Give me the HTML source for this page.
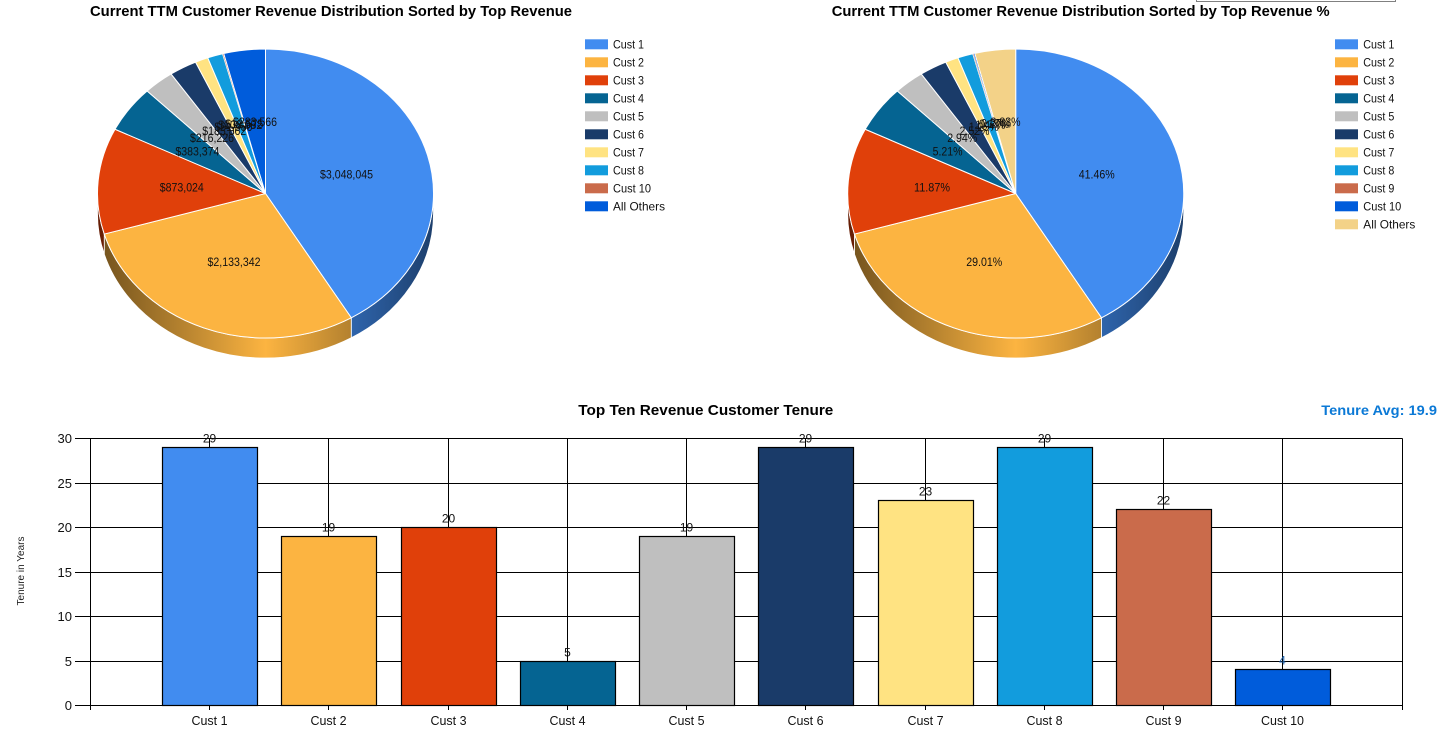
<!DOCTYPE html>
<html>
<head>
<meta charset="utf-8">
<style>
  html,body{margin:0;padding:0;background:#fff;}
  body{width:1444px;height:731px;overflow:hidden;}
  svg{display:block;font-family:"Liberation Sans",Arial,sans-serif;}
</style>
</head>
<body>
<svg width="1444" height="731" viewBox="0 0 1444 731" xmlns="http://www.w3.org/2000/svg">
  <defs>
    <linearGradient id="gB" gradientUnits="userSpaceOnUse" x1="97.5" y1="0" x2="433.5" y2="0">
      <stop offset="0" stop-color="#1d3f6c"/>
      <stop offset="0.25" stop-color="#2f65ad"/>
      <stop offset="0.5" stop-color="#418cf0"/>
      <stop offset="0.75" stop-color="#2f65ad"/>
      <stop offset="1" stop-color="#1d3f6c"/>
    </linearGradient>
    <linearGradient id="gO" gradientUnits="userSpaceOnUse" x1="97.5" y1="0" x2="433.5" y2="0">
      <stop offset="0" stop-color="#71511d"/>
      <stop offset="0.25" stop-color="#b5822f"/>
      <stop offset="0.5" stop-color="#fcb441"/>
      <stop offset="0.75" stop-color="#b5822f"/>
      <stop offset="1" stop-color="#71511d"/>
    </linearGradient>
    <linearGradient id="gR" gradientUnits="userSpaceOnUse" x1="97.5" y1="0" x2="433.5" y2="0">
      <stop offset="0" stop-color="#651d05"/>
      <stop offset="0.25" stop-color="#a12e07"/>
      <stop offset="0.5" stop-color="#e0400a"/>
      <stop offset="0.75" stop-color="#a12e07"/>
      <stop offset="1" stop-color="#651d05"/>
    </linearGradient>
  </defs>

  <!-- top-right box fragment -->
  <rect x="1196.5" y="-6" width="199" height="7.5" fill="#fff" stroke="#808080" stroke-width="1"/>

  <!-- ============ LEFT PIE ============ -->
  <text x="90" y="16" font-size="15" font-weight="bold" fill="#000" textLength="482" lengthAdjust="spacingAndGlyphs">Current TTM Customer Revenue Distribution Sorted by Top Revenue</text>

  <g stroke="#fff" stroke-width="0.8">
    <path d="M433.5,193.5 A168,144.5 0 0 1 351.27,317.76 L351.27,337.76 A168,144.5 0 0 0 433.5,213.5 Z" fill="url(#gB)"/>
    <path d="M351.27,317.76 A168,144.5 0 0 1 104.25,234.06 L104.25,254.06 A168,144.5 0 0 0 351.27,337.76 Z" fill="url(#gO)"/>
    <path d="M104.25,234.06 A168,144.5 0 0 1 97.5,193.5 L97.5,213.5 A168,144.5 0 0 0 104.25,254.06 Z" fill="url(#gR)"/>
  </g>
  <g stroke="#fff" stroke-width="1" stroke-linejoin="round">
    <path d="M265.5,193.5 L265.5,49 A168,144.5 0 0 1 351.27,317.76 Z" fill="#418cf0"/>
    <path d="M265.5,193.5 L351.27,317.76 A168,144.5 0 0 1 104.25,234.06 Z" fill="#fcb441"/>
    <path d="M265.5,193.5 L104.25,234.06 A168,144.5 0 0 1 115.02,129.26 Z" fill="#e0400a"/>
    <path d="M265.5,193.5 L115.02,129.26 A168,144.5 0 0 1 147.13,90.96 Z" fill="#056492"/>
    <path d="M265.5,193.5 L147.13,90.96 A168,144.5 0 0 1 171.07,73.98 Z" fill="#bfbfbf"/>
    <path d="M265.5,193.5 L171.07,73.98 A168,144.5 0 0 1 195.56,62.12 Z" fill="#1a3b69"/>
    <path d="M265.5,193.5 L195.56,62.12 A168,144.5 0 0 1 207.76,57.80 Z" fill="#ffe382"/>
    <path d="M265.5,193.5 L207.76,57.80 A168,144.5 0 0 1 222.59,53.80 Z" fill="#129cdd"/>
    <path d="M265.5,193.5 L222.59,53.80 A168,144.5 0 0 1 223.72,53.54 Z" fill="#ca6b4b" stroke-width="0.4"/>
    <path d="M265.5,193.5 L223.72,53.54 A168,144.5 0 0 1 265.5,49 Z" fill="#005cdb"/>
  </g>
  <g font-size="12" fill="#111" text-anchor="middle">
    <text x="346.5" y="178.5" textLength="53" lengthAdjust="spacingAndGlyphs">$3,048,045</text>
    <text x="234" y="266" textLength="53" lengthAdjust="spacingAndGlyphs">$2,133,342</text>
    <text x="181.8" y="191.5" textLength="44" lengthAdjust="spacingAndGlyphs">$873,024</text>
    <text x="197.4" y="155.5" textLength="44" lengthAdjust="spacingAndGlyphs">$383,374</text>
    <text x="212" y="142" textLength="44" lengthAdjust="spacingAndGlyphs">$216,226</text>
    <text x="224.3" y="135" textLength="44" lengthAdjust="spacingAndGlyphs">$185,862</text>
    <text x="233.5" y="131" textLength="38" lengthAdjust="spacingAndGlyphs">$91,950</text>
    <text x="240.2" y="129" textLength="44" lengthAdjust="spacingAndGlyphs">$108,052</text>
    <text x="244.3" y="128" textLength="38" lengthAdjust="spacingAndGlyphs">$12,575</text>
    <text x="255" y="126" textLength="44" lengthAdjust="spacingAndGlyphs">$283,566</text>
  </g>

  <!-- left legend -->
  <g>
    <rect x="585" y="39.3" width="23" height="10" fill="#418cf0"/>
    <rect x="585" y="57.3" width="23" height="10" fill="#fcb441"/>
    <rect x="585" y="75.3" width="23" height="10" fill="#e0400a"/>
    <rect x="585" y="93.3" width="23" height="10" fill="#056492"/>
    <rect x="585" y="111.3" width="23" height="10" fill="#bfbfbf"/>
    <rect x="585" y="129.3" width="23" height="10" fill="#1a3b69"/>
    <rect x="585" y="147.3" width="23" height="10" fill="#ffe382"/>
    <rect x="585" y="165.3" width="23" height="10" fill="#129cdd"/>
    <rect x="585" y="183.3" width="23" height="10" fill="#ca6b4b"/>
    <rect x="585" y="201.3" width="23" height="10" fill="#005cdb"/>
  </g>
  <g font-size="12" fill="#111">
    <text x="613" y="48.3" textLength="31" lengthAdjust="spacingAndGlyphs">Cust 1</text>
    <text x="613" y="66.3" textLength="31" lengthAdjust="spacingAndGlyphs">Cust 2</text>
    <text x="613" y="84.3" textLength="31" lengthAdjust="spacingAndGlyphs">Cust 3</text>
    <text x="613" y="102.3" textLength="31" lengthAdjust="spacingAndGlyphs">Cust 4</text>
    <text x="613" y="120.3" textLength="31" lengthAdjust="spacingAndGlyphs">Cust 5</text>
    <text x="613" y="138.3" textLength="31" lengthAdjust="spacingAndGlyphs">Cust 6</text>
    <text x="613" y="156.3" textLength="31" lengthAdjust="spacingAndGlyphs">Cust 7</text>
    <text x="613" y="174.3" textLength="31" lengthAdjust="spacingAndGlyphs">Cust 8</text>
    <text x="613" y="192.3" textLength="38" lengthAdjust="spacingAndGlyphs">Cust 10</text>
    <text x="613" y="210.3" textLength="52" lengthAdjust="spacingAndGlyphs">All Others</text>
  </g>

  <!-- ============ RIGHT PIE ============ -->
  <text x="831.7" y="16" font-size="15" font-weight="bold" fill="#000" textLength="498" lengthAdjust="spacingAndGlyphs">Current TTM Customer Revenue Distribution Sorted by Top Revenue %</text>

  <g transform="translate(750.2,0)">
    <g stroke="#fff" stroke-width="0.8">
      <path d="M433.5,193.5 A168,144.5 0 0 1 351.27,317.76 L351.27,337.76 A168,144.5 0 0 0 433.5,213.5 Z" fill="url(#gB)"/>
      <path d="M351.27,317.76 A168,144.5 0 0 1 104.25,234.06 L104.25,254.06 A168,144.5 0 0 0 351.27,337.76 Z" fill="url(#gO)"/>
      <path d="M104.25,234.06 A168,144.5 0 0 1 97.5,193.5 L97.5,213.5 A168,144.5 0 0 0 104.25,254.06 Z" fill="url(#gR)"/>
    </g>
    <g stroke="#fff" stroke-width="1" stroke-linejoin="round">
      <path d="M265.5,193.5 L265.5,49 A168,144.5 0 0 1 351.27,317.76 Z" fill="#418cf0"/>
      <path d="M265.5,193.5 L351.27,317.76 A168,144.5 0 0 1 104.25,234.06 Z" fill="#fcb441"/>
      <path d="M265.5,193.5 L104.25,234.06 A168,144.5 0 0 1 115.02,129.26 Z" fill="#e0400a"/>
      <path d="M265.5,193.5 L115.02,129.26 A168,144.5 0 0 1 147.13,90.96 Z" fill="#056492"/>
      <path d="M265.5,193.5 L147.13,90.96 A168,144.5 0 0 1 171.07,73.98 Z" fill="#bfbfbf"/>
      <path d="M265.5,193.5 L171.07,73.98 A168,144.5 0 0 1 195.56,62.12 Z" fill="#1a3b69"/>
      <path d="M265.5,193.5 L195.56,62.12 A168,144.5 0 0 1 207.76,57.80 Z" fill="#ffe382"/>
      <path d="M265.5,193.5 L207.76,57.80 A168,144.5 0 0 1 222.59,53.80 Z" fill="#129cdd"/>
      <path d="M265.5,193.5 L222.59,53.80 A168,144.5 0 0 1 223.43,53.61 Z" fill="#ca6b4b" stroke-width="0.4"/>
      <path d="M265.5,193.5 L223.43,53.61 A168,144.5 0 0 1 224.57,53.35 Z" fill="#005cdb" stroke-width="0.4"/>
      <path d="M265.5,193.5 L224.57,53.35 A168,144.5 0 0 1 265.5,49 Z" fill="#f3d288"/>
    </g>
  </g>
  <g font-size="12" fill="#111" text-anchor="middle">
    <text x="1096.7" y="178.5" textLength="36" lengthAdjust="spacingAndGlyphs">41.46%</text>
    <text x="984.2" y="266" textLength="36" lengthAdjust="spacingAndGlyphs">29.01%</text>
    <text x="932" y="191.5" textLength="36" lengthAdjust="spacingAndGlyphs">11.87%</text>
    <text x="947.6" y="155.5" textLength="30" lengthAdjust="spacingAndGlyphs">5.21%</text>
    <text x="962.2" y="142" textLength="30" lengthAdjust="spacingAndGlyphs">2.94%</text>
    <text x="974.5" y="135" textLength="30" lengthAdjust="spacingAndGlyphs">2.52%</text>
    <text x="983.7" y="131" textLength="30" lengthAdjust="spacingAndGlyphs">1.25%</text>
    <text x="990.4" y="129" textLength="30" lengthAdjust="spacingAndGlyphs">1.47%</text>
    <text x="994" y="128" textLength="30" lengthAdjust="spacingAndGlyphs">0.17%</text>
    <text x="996" y="127.5" textLength="30" lengthAdjust="spacingAndGlyphs">0.27%</text>
    <text x="1005.5" y="126" textLength="30" lengthAdjust="spacingAndGlyphs">3.83%</text>
  </g>

  <!-- right legend -->
  <g>
    <rect x="1335" y="39.3" width="23" height="10" fill="#418cf0"/>
    <rect x="1335" y="57.3" width="23" height="10" fill="#fcb441"/>
    <rect x="1335" y="75.3" width="23" height="10" fill="#e0400a"/>
    <rect x="1335" y="93.3" width="23" height="10" fill="#056492"/>
    <rect x="1335" y="111.3" width="23" height="10" fill="#bfbfbf"/>
    <rect x="1335" y="129.3" width="23" height="10" fill="#1a3b69"/>
    <rect x="1335" y="147.3" width="23" height="10" fill="#ffe382"/>
    <rect x="1335" y="165.3" width="23" height="10" fill="#129cdd"/>
    <rect x="1335" y="183.3" width="23" height="10" fill="#ca6b4b"/>
    <rect x="1335" y="201.3" width="23" height="10" fill="#005cdb"/>
    <rect x="1335" y="219.3" width="23" height="10" fill="#f3d288"/>
  </g>
  <g font-size="12" fill="#111">
    <text x="1363.3" y="48.3" textLength="31" lengthAdjust="spacingAndGlyphs">Cust 1</text>
    <text x="1363.3" y="66.3" textLength="31" lengthAdjust="spacingAndGlyphs">Cust 2</text>
    <text x="1363.3" y="84.3" textLength="31" lengthAdjust="spacingAndGlyphs">Cust 3</text>
    <text x="1363.3" y="102.3" textLength="31" lengthAdjust="spacingAndGlyphs">Cust 4</text>
    <text x="1363.3" y="120.3" textLength="31" lengthAdjust="spacingAndGlyphs">Cust 5</text>
    <text x="1363.3" y="138.3" textLength="31" lengthAdjust="spacingAndGlyphs">Cust 6</text>
    <text x="1363.3" y="156.3" textLength="31" lengthAdjust="spacingAndGlyphs">Cust 7</text>
    <text x="1363.3" y="174.3" textLength="31" lengthAdjust="spacingAndGlyphs">Cust 8</text>
    <text x="1363.3" y="192.3" textLength="31" lengthAdjust="spacingAndGlyphs">Cust 9</text>
    <text x="1363.3" y="210.3" textLength="38" lengthAdjust="spacingAndGlyphs">Cust 10</text>
    <text x="1363.3" y="228.3" textLength="52" lengthAdjust="spacingAndGlyphs">All Others</text>
  </g>

  <!-- ============ BAR CHART ============ -->
  <text x="578.3" y="415" font-size="15" font-weight="bold" fill="#000" textLength="255" lengthAdjust="spacingAndGlyphs">Top Ten Revenue Customer Tenure</text>
  <text x="1321.3" y="415" font-size="14" font-weight="bold" fill="#0b79d6" textLength="115.7" lengthAdjust="spacingAndGlyphs">Tenure Avg: 19.9</text>

  <text transform="translate(24,571) rotate(-90)" font-size="10" fill="#222" text-anchor="middle">Tenure in Years</text>

  <!-- grid -->
  <g stroke="#000" stroke-width="1" fill="none">
    <line x1="75" y1="438.5" x2="1402.5" y2="438.5"/>
    <line x1="75" y1="483.5" x2="1402.5" y2="483.5"/>
    <line x1="75" y1="527.5" x2="1402.5" y2="527.5"/>
    <line x1="75" y1="572.5" x2="1402.5" y2="572.5"/>
    <line x1="75" y1="616.5" x2="1402.5" y2="616.5"/>
    <line x1="75" y1="661.5" x2="1402.5" y2="661.5"/>
    <line x1="75" y1="705.5" x2="1402.5" y2="705.5"/>
    <line x1="90.5" y1="438.5" x2="90.5" y2="710"/>
    <line x1="209.5" y1="438.5" x2="209.5" y2="710"/>
    <line x1="328.5" y1="438.5" x2="328.5" y2="710"/>
    <line x1="448.5" y1="438.5" x2="448.5" y2="710"/>
    <line x1="567.5" y1="438.5" x2="567.5" y2="710"/>
    <line x1="686.5" y1="438.5" x2="686.5" y2="710"/>
    <line x1="805.5" y1="438.5" x2="805.5" y2="710"/>
    <line x1="925.5" y1="438.5" x2="925.5" y2="710"/>
    <line x1="1044.5" y1="438.5" x2="1044.5" y2="710"/>
    <line x1="1163.5" y1="438.5" x2="1163.5" y2="710"/>
    <line x1="1282.5" y1="438.5" x2="1282.5" y2="710"/>
    <line x1="1402.5" y1="438.5" x2="1402.5" y2="710"/>
  </g>

  <!-- bars -->
  <g stroke="#000" stroke-width="1.2">
    <rect x="162.5" y="447.5" width="95" height="258" fill="#418cf0"/>
    <rect x="281.5" y="536.5" width="95" height="169" fill="#fcb441"/>
    <rect x="401.5" y="527.5" width="95" height="178" fill="#e0400a"/>
    <rect x="520.5" y="661.5" width="95" height="44" fill="#056492"/>
    <rect x="639.5" y="536.5" width="95" height="169" fill="#bfbfbf"/>
    <rect x="758.5" y="447.5" width="95" height="258" fill="#1a3b69"/>
    <rect x="878.5" y="500.5" width="95" height="205" fill="#ffe382"/>
    <rect x="997.5" y="447.5" width="95" height="258" fill="#129cdd"/>
    <rect x="1116.5" y="509.5" width="95" height="196" fill="#ca6b4b"/>
    <rect x="1235.5" y="669.5" width="95" height="36" fill="#005cdb"/>
  </g>

  <!-- bar value labels -->
  <g font-size="12" fill="#111" text-anchor="middle">
    <text x="209.5" y="442.7">29</text>
    <text x="328.5" y="531.7">19</text>
    <text x="448.5" y="522.7">20</text>
    <text x="567.5" y="656.7">5</text>
    <text x="686.5" y="531.7">19</text>
    <text x="805.5" y="442.7">29</text>
    <text x="925.5" y="495.7">23</text>
    <text x="1044.5" y="442.7">29</text>
    <text x="1163.5" y="504.7">22</text>
    <text x="1282.5" y="664.7" fill="#1d5fa8">4</text>
  </g>

  <!-- y tick labels -->
  <g font-size="13" fill="#111" text-anchor="end">
    <text x="72" y="443">30</text>
    <text x="72" y="488">25</text>
    <text x="72" y="532">20</text>
    <text x="72" y="577">15</text>
    <text x="72" y="621">10</text>
    <text x="72" y="666">5</text>
    <text x="72" y="710">0</text>
  </g>

  <!-- x labels -->
  <g font-size="13" fill="#111" text-anchor="middle">
    <text x="209.5" y="725" textLength="36" lengthAdjust="spacingAndGlyphs">Cust 1</text>
    <text x="328.5" y="725" textLength="36" lengthAdjust="spacingAndGlyphs">Cust 2</text>
    <text x="448.5" y="725" textLength="36" lengthAdjust="spacingAndGlyphs">Cust 3</text>
    <text x="567.5" y="725" textLength="36" lengthAdjust="spacingAndGlyphs">Cust 4</text>
    <text x="686.5" y="725" textLength="36" lengthAdjust="spacingAndGlyphs">Cust 5</text>
    <text x="805.5" y="725" textLength="36" lengthAdjust="spacingAndGlyphs">Cust 6</text>
    <text x="925.5" y="725" textLength="36" lengthAdjust="spacingAndGlyphs">Cust 7</text>
    <text x="1044.5" y="725" textLength="36" lengthAdjust="spacingAndGlyphs">Cust 8</text>
    <text x="1163.5" y="725" textLength="36" lengthAdjust="spacingAndGlyphs">Cust 9</text>
    <text x="1282.5" y="725" textLength="43" lengthAdjust="spacingAndGlyphs">Cust 10</text>
  </g>
</svg>
</body>
</html>
